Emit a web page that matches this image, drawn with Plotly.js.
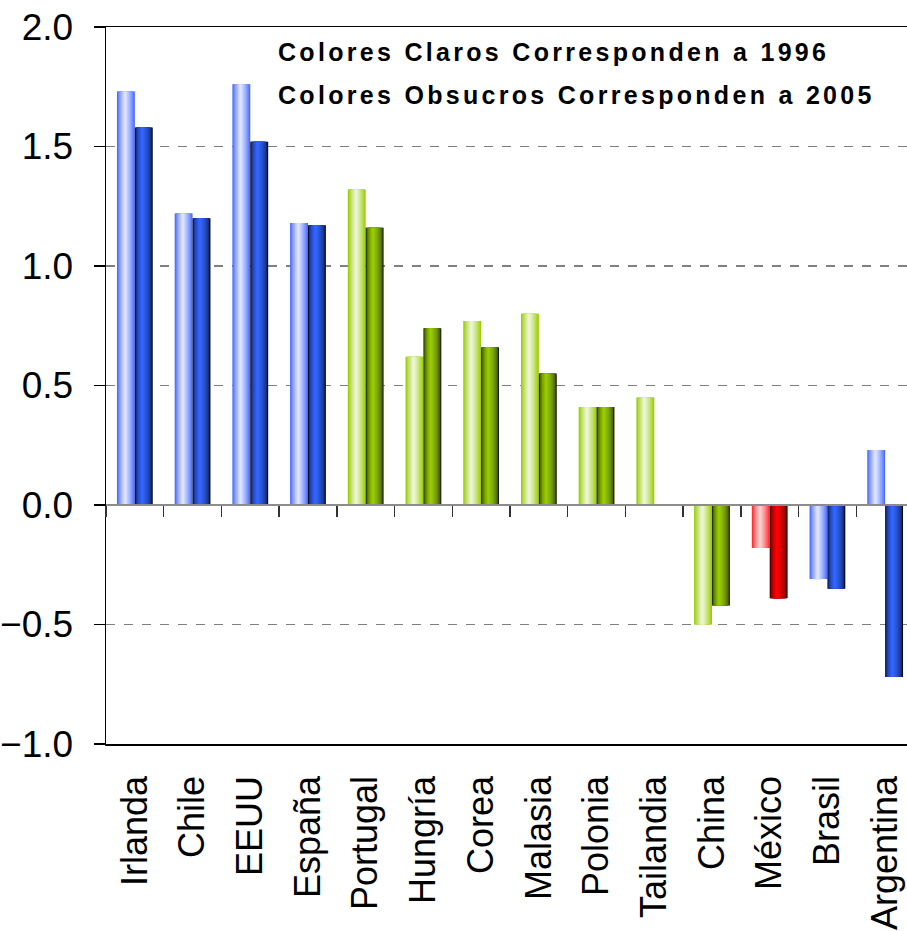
<!DOCTYPE html>
<html>
<head>
<meta charset="utf-8">
<script src="https://cdn.plot.ly/plotly-3.0.1.min.js"></script>
<style>
  html, body { margin: 0; padding: 0; overflow: hidden; background: #fff; }
  #chart { width: 914px; height: 931px; }
</style>
</head>
<body>
<div id="chart"></div>
<script>
// ---- data ----
const categories = ['Irlanda','Chile','EEUU','España','Portugal','Hungría','Corea','Malasia','Polonia','Tailandia','China','México','Brasil','Argentina'];
const values1996 = [1.73, 1.22, 1.76, 1.18, 1.32, 0.62, 0.77, 0.80, 0.41, 0.45, -0.50, -0.18, -0.31, 0.23];
const values2005 = [1.58, 1.20, 1.52, 1.17, 1.16, 0.74, 0.66, 0.55, 0.41, null, -0.42, -0.39, -0.35, -0.72];
const colorFamily = ['blue','blue','blue','blue','green','green','green','green','green','green','green','red','blue','blue'];
const yTickVals = [-1.0, -0.5, 0.0, 0.5, 1.0, 1.5, 2.0];
const noteLines = ['Colores Claros Corresponden a 1996', 'Colores Obsucros Corresponden a 2005'];

// ---- styles ----
const palette = {
  blue:  { light: {edge: [70, 105, 255], center: [222, 229, 255], c: 0.45, g: 0.8},
           dark:  {edge: [2, 8, 30],     center: [51, 102, 255],  c: 0.40, g: 0.45} },
  green: { light: {edge: [153, 204, 0],  center: [236, 245, 214], c: 0.45, g: 0.8},
           dark:  {edge: [20, 30, 0],    center: [153, 204, 0],   c: 0.40, g: 0.45} },
  red:   { light: {edge: [255, 40, 40],  center: [255, 210, 210], c: 0.45, g: 0.8},
           dark:  {edge: [40, 0, 0],     center: [255, 0, 0],     c: 0.40, g: 0.45} }
};
const FONT = '"Liberation Sans", Arial, sans-serif';
const N = 10;          // gradient layers
const BAR_W = 0.31;    // bar width in category units

function mix(a, b, t) {
  return 'rgb(' + a.map((v, i) => Math.round(v + (b[i] - v) * t)).join(',') + ')';
}

const traces = [];
function addGradientBars(values, kind, base) {
  const c = palette.blue[kind].c;
  const g = palette.blue[kind].g;
  for (let k = 0; k < N; k++) {
    const s = 1 - k / N;
    const t = Math.pow(k / (N - 1), g);
    const p = base + c * BAR_W;
    traces.push({
      type: 'bar',
      x: categories,
      y: values,
      offset: p - c * BAR_W * s,
      width: BAR_W * s,
      marker: {
        color: colorFamily.map(f => mix(palette[f][kind].edge, palette[f][kind].center, t)),
        line: {width: 0}
      },
      showlegend: false,
      hoverinfo: 'skip'
    });
  }
}
addGradientBars(values1996, 'light', -BAR_W);
addGradientBars(values2005, 'dark', 0);

// invisible trace to carry the zero-line axis with boundary ticks
traces.push({
  type: 'scatter', mode: 'markers', x: categories, y: categories.map(() => 0),
  xaxis: 'x2', marker: {opacity: 0}, showlegend: false, hoverinfo: 'skip'
});

const layout = {
  width: 914, height: 931,
  margin: {l: 106, r: 0, t: 27, b: 187},
  paper_bgcolor: '#fff', plot_bgcolor: '#fff',
  barmode: 'overlay',
  showlegend: false,
  font: {family: FONT, color: '#000'},
  xaxis: {
    type: 'category', categoryorder: 'array', categoryarray: categories,
    range: [-0.5, categories.length - 0.5],
    showline: true, mirror: true, linecolor: '#000', linewidth: 1.5,
    ticks: '', tickangle: -90,
    tickfont: {family: FONT, size: 36, color: '#000'},
    ticklabelstandoff: 16,
    showgrid: false, zeroline: false, fixedrange: true
  },
  xaxis2: {
    type: 'category', categoryorder: 'array', categoryarray: categories,
    range: [-0.5, categories.length - 0.5],
    overlaying: 'x', anchor: 'free', position: 1 / 3, side: 'bottom',
    showline: true, linecolor: '#8c8c8c', linewidth: 2,
    ticks: 'outside', tickson: 'boundaries', ticklen: 11, tickwidth: 1.5, tickcolor: '#333',
    showticklabels: false, showgrid: false, zeroline: false
  },
  yaxis: {
    range: [-1, 2], tickvals: yTickVals, tickformat: '.1f',
    showline: true, linecolor: '#000', linewidth: 1.5,
    ticks: 'outside', ticklen: 11, tickwidth: 1.5, tickcolor: '#000',
    tickfont: {family: FONT, size: 37, color: '#000'},
    ticklabelstandoff: 13,
    showgrid: true, gridcolor: '#808080', gridwidth: 1.5, griddash: 'dash',
    zeroline: false, fixedrange: true
  },
  annotations: noteLines.map((txt, i) => ({
    text: '<b>' + txt + '</b>',
    xref: 'paper', yref: 'paper',
    x: (278 - 106) / 808, xanchor: 'left',
    y: i === 0 ? 0.965 : 0.905, yanchor: 'middle',
    showarrow: false, align: 'left',
    font: {family: FONT, size: 25, color: '#000'}
  }))
};

Plotly.newPlot('chart', traces, layout, {staticPlot: true, displayModeBar: false}).then(() => {
  document.querySelectorAll('.annotation-text').forEach(el => {
    el.style.letterSpacing = '3.3px';
    el.setAttribute('text-anchor', 'start');
    el.setAttribute('x', '0');
  });
});
</script>
</body>
</html>
